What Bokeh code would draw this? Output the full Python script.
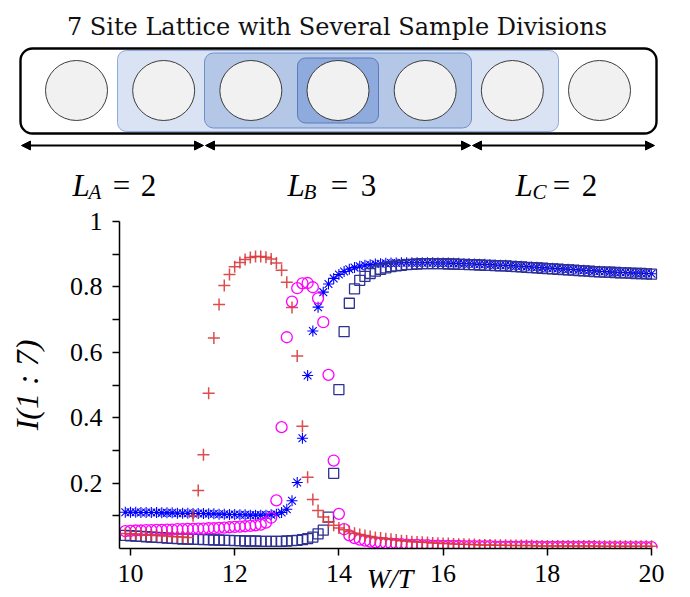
import numpy as np
from bokeh.plotting import figure
from bokeh.models import Range1d, FixedTicker, Arrow, NormalHead
from bokeh.core.properties import value
from bokeh.embed import file_html
from bokeh.resources import INLINE

# ---------------- data ----------------
W = [9.9,
     10.0, 10.1, 10.2, 10.3, 10.4, 10.5, 10.6, 10.7, 10.8, 10.9,
     11.0, 11.1, 11.2, 11.3, 11.4, 11.5, 11.6, 11.7, 11.8, 11.9,
     12.0, 12.1, 12.2, 12.3, 12.4, 12.5, 12.6, 12.7, 12.8, 12.9,
     13.0, 13.1, 13.2, 13.3, 13.4, 13.5, 13.6, 13.7, 13.8, 13.9,
     14.0, 14.1, 14.2, 14.3, 14.4, 14.5, 14.6, 14.7, 14.8, 14.9,
     15.0, 15.1, 15.2, 15.3, 15.4, 15.5, 15.6, 15.7, 15.8, 15.9,
     16.0, 16.1, 16.2, 16.3, 16.4, 16.5, 16.6, 16.7, 16.8, 16.9,
     17.0, 17.1, 17.2, 17.3, 17.4, 17.5, 17.6, 17.7, 17.8, 17.9,
     18.0, 18.1, 18.2, 18.3, 18.4, 18.5, 18.6, 18.7, 18.8, 18.9,
     19.0, 19.1, 19.2, 19.3, 19.4, 19.5, 19.6, 19.7, 19.8, 19.9,
     20.0]

I_plus = [0.046,
          0.045, 0.044, 0.043, 0.042, 0.041, 0.040, 0.039, 0.038, 0.037, 0.036,
          0.035, 0.034, 0.100, 0.177, 0.287, 0.475, 0.644, 0.746, 0.804, 0.838,
          0.862, 0.875, 0.884, 0.890, 0.893, 0.893, 0.891, 0.885, 0.873, 0.851,
          0.814, 0.737, 0.589, 0.374, 0.218, 0.150, 0.116, 0.096, 0.082, 0.071,
          0.063, 0.057, 0.052, 0.047, 0.043, 0.040, 0.037, 0.034, 0.032, 0.030,
          0.028, 0.026, 0.024, 0.023, 0.021, 0.020, 0.019, 0.018, 0.017, 0.016,
          0.015, 0.015, 0.014, 0.013, 0.013, 0.012, 0.012, 0.011, 0.011, 0.011,
          0.010, 0.010, 0.010, 0.009, 0.009, 0.009, 0.009, 0.009, 0.008, 0.008,
          0.008, 0.008, 0.008, 0.008, 0.008, 0.008, 0.008, 0.008, 0.008, 0.008,
          0.007, 0.007, 0.007, 0.007, 0.007, 0.007, 0.007, 0.007, 0.007, 0.007,
          0.007]

I_circle = [0.053,
            0.054, 0.055, 0.055, 0.056, 0.056, 0.057, 0.057, 0.058, 0.058, 0.059,
            0.059, 0.060, 0.060, 0.061, 0.061, 0.062, 0.062, 0.063, 0.064, 0.065,
            0.066, 0.067, 0.068, 0.069, 0.071, 0.073, 0.079, 0.094, 0.147, 0.371,
            0.646, 0.755, 0.796, 0.811, 0.812, 0.799, 0.765, 0.692, 0.531, 0.269,
            0.106, 0.059, 0.040, 0.032, 0.027, 0.024, 0.021, 0.019, 0.017, 0.016,
            0.015, 0.014, 0.013, 0.012, 0.011, 0.011, 0.010, 0.010, 0.009, 0.009,
            0.008, 0.008, 0.008, 0.008, 0.007, 0.007, 0.007, 0.007, 0.007, 0.007,
            0.006, 0.006, 0.006, 0.006, 0.006, 0.006, 0.006, 0.006, 0.005, 0.005,
            0.005, 0.005, 0.005, 0.005, 0.005, 0.005, 0.005, 0.005, 0.005, 0.005,
            0.004, 0.004, 0.004, 0.004, 0.004, 0.004, 0.004, 0.004, 0.004, 0.004,
            0.004]

I_star = [0.111,
          0.111, 0.111, 0.110, 0.110, 0.110, 0.110, 0.109, 0.109, 0.109, 0.108,
          0.108, 0.108, 0.107, 0.107, 0.107, 0.106, 0.106, 0.105, 0.105, 0.104,
          0.104, 0.103, 0.103, 0.102, 0.102, 0.102, 0.102, 0.103, 0.105, 0.110,
          0.120, 0.146, 0.202, 0.337, 0.529, 0.665, 0.738, 0.784, 0.809, 0.826,
          0.838, 0.847, 0.854, 0.859, 0.863, 0.866, 0.868, 0.870, 0.871, 0.872,
          0.873, 0.873, 0.874, 0.874, 0.874, 0.874, 0.874, 0.874, 0.874, 0.873,
          0.873, 0.873, 0.872, 0.872, 0.871, 0.871, 0.870, 0.869, 0.869, 0.868,
          0.867, 0.866, 0.866, 0.865, 0.864, 0.863, 0.862, 0.861, 0.860, 0.859,
          0.858, 0.857, 0.856, 0.855, 0.854, 0.853, 0.852, 0.851, 0.850, 0.849,
          0.848, 0.847, 0.846, 0.845, 0.845, 0.844, 0.843, 0.842, 0.842, 0.841,
          0.840]

I_square = [0.040,
            0.039, 0.038, 0.037, 0.036, 0.035, 0.034, 0.033, 0.032, 0.031, 0.030,
            0.029, 0.029, 0.028, 0.028, 0.027, 0.027, 0.026, 0.026, 0.025, 0.025,
            0.024, 0.024, 0.023, 0.023, 0.023, 0.022, 0.022, 0.022, 0.022, 0.022,
            0.023, 0.024, 0.025, 0.027, 0.030, 0.035, 0.045, 0.056, 0.096, 0.230,
            0.486, 0.663, 0.750, 0.794, 0.820, 0.832, 0.841, 0.848, 0.854, 0.858,
            0.862, 0.864, 0.866, 0.868, 0.869, 0.870, 0.871, 0.871, 0.871, 0.871,
            0.871, 0.870, 0.870, 0.869, 0.869, 0.868, 0.868, 0.867, 0.866, 0.866,
            0.865, 0.864, 0.864, 0.863, 0.862, 0.861, 0.860, 0.859, 0.858, 0.857,
            0.856, 0.855, 0.854, 0.853, 0.852, 0.851, 0.850, 0.849, 0.848, 0.847,
            0.846, 0.845, 0.845, 0.844, 0.843, 0.843, 0.842, 0.841, 0.841, 0.840,
            0.839]

x_ticks = [10, 12, 14, 16, 18, 20]
y_ticks = [0.1, 0.2, 0.3, 0.4, 0.5, 0.6, 0.7, 0.8, 0.9, 1.0]
y_tick_labels = {0.1: "", 0.2: "0.2", 0.3: "", 0.4: "0.4", 0.5: "",
                 0.6: "0.6", 0.7: "", 0.8: "0.8", 0.9: "", 1.0: "1"}

title_text = "7 Site Lattice with Several Sample Divisions"
n_sites = 7
div_letters = ["A", "B", "C"]
div_sizes = ["2", "3", "2"]
x_label = "W/T"
y_label = "I(1 : 7)"

SERIF = "Liberation Serif"

# ---------------- top: lattice diagram (page-pixel coordinates) ----------------
top = figure(width=690, height=200, x_range=Range1d(0, 690), y_range=Range1d(200, 0),
             output_backend="svg", toolbar_location=None, min_border=0,
             x_axis_type=None, y_axis_type=None, outline_line_color=None)

top.text(x=[336.5], y=[26], text=[title_text], text_font=value("DejaVu Serif"),
         text_font_size="24px", text_align="center", text_baseline="alphabetic",
         text_color="#111111")

# outer box and nested divisions
top.quad(left=[20], right=[656], top=[48], bottom=[133], fill_color="white",
         line_color="black", line_width=2.4, border_radius=12)
top.quad(left=[117], right=[558], top=[50], bottom=[131], fill_color="#dae3f3",
         line_color="#8faadc", line_width=1, border_radius=9)
top.quad(left=[204], right=[471], top=[52.5], bottom=[127.5], fill_color="#b4c7e7",
         line_color="#6f8fc8", line_width=1, border_radius=9)
top.quad(left=[297], right=[378], top=[57.5], bottom=[122.5], fill_color="#8faadc",
         line_color="#5a7cbc", line_width=1, border_radius=8)

site_x = [76 + 87.17 * i for i in range(n_sites)]
top.ellipse(x=site_x, y=[90] * n_sites, width=62, height=60, fill_color="#f1f1f1",
            line_color="#3c3c3c", line_width=1)

arrow_spans = [(21, 203), (205, 470), (472, 654)]
for a, b in arrow_spans:
    top.add_layout(Arrow(start=NormalHead(size=9, fill_color="black", line_color="black", line_width=1),
                         end=NormalHead(size=9, fill_color="black", line_color="black", line_width=1),
                         x_start=a, y_start=145, x_end=b, y_end=145,
                         line_color="black", line_width=2))

L_left = [72, 287, 515]
sub_left = [88, 303, 532]
eq_center = [121, 339, 561]
num_center = [148, 368, 589]
top.text(x=L_left, y=[185] * 3, text=["L"] * 3, text_font=value(SERIF),
         text_font_style="italic", text_font_size="31px", text_align="left",
         text_baseline="alphabetic", text_color="black")
top.text(x=sub_left, y=[191] * 3, text=div_letters, text_font=value(SERIF),
         text_font_style="italic", text_font_size="21px", text_align="left",
         text_baseline="alphabetic", text_color="black")
top.text(x=eq_center, y=[185] * 3, text=["="] * 3, text_font=value(SERIF),
         text_font_size="31px", text_align="center",
         text_baseline="alphabetic", text_color="black")
top.text(x=num_center, y=[185] * 3, text=div_sizes, text_font=value(SERIF),
         text_font_size="31px", text_align="center",
         text_baseline="alphabetic", text_color="black")

# ---------------- bottom: I(1:7) vs W/T ----------------
PPU = 52.1
X0 = 10 - 11 / PPU
X1 = X0 + 541 / PPU

bot = figure(width=690, height=397, x_range=Range1d(X0, X1), y_range=Range1d(0, 1),
             output_backend="svg", toolbar_location=None,
             min_border_left=119, min_border_right=30, min_border_top=21, min_border_bottom=49,
             outline_line_color=None)
bot.grid.visible = False

bot.scatter(W, I_star, marker="asterisk", size=11, line_color="#0000ff", line_width=1.1)
bot.scatter(W, I_square, marker="square", size=10, fill_color=None, line_color="#2e3192",
            line_width=1.3)
bot.scatter(W, I_circle, marker="circle", size=11, fill_color=None, line_color="#ff00ff",
            line_width=1.3)
bot.scatter(W, I_plus, marker="cross", size=12, line_color="#d83a3a", line_width=1.5,
            line_alpha=0.9)

for ax in (bot.xaxis[0], bot.yaxis[0]):
    ax.axis_line_width = 1.5
    ax.axis_line_color = "black"
    ax.major_tick_line_width = 1.5
    ax.major_tick_line_color = "black"
    ax.major_tick_in = 0
    ax.major_tick_out = 7
    ax.minor_tick_in = 0
    ax.minor_tick_out = 0
    ax.major_label_text_font = SERIF
    ax.major_label_text_font_size = "26px"
    ax.major_label_text_color = "black"
    ax.axis_label_text_font = SERIF
    ax.axis_label_text_font_style = "italic"
    ax.axis_label_text_color = "black"

bot.xaxis.ticker = FixedTicker(ticks=x_ticks)
bot.xaxis.bounds = (X0, 20.0)
bot.xaxis.major_label_standoff = 9
bot.xaxis.axis_label = x_label
bot.xaxis.axis_label_text_font_size = "28px"
bot.xaxis.axis_label_text_line_height = 0.8
bot.xaxis.axis_label_standoff = -22

bot.yaxis.ticker = FixedTicker(ticks=y_ticks)
bot.yaxis.major_label_overrides = y_tick_labels
bot.yaxis.major_label_standoff = 10
bot.yaxis.bounds = (0, 1)
bot.yaxis.axis_label = y_label
bot.yaxis.axis_label_text_font_size = "32px"
bot.yaxis.axis_label_standoff = 22

open("out.html", "w").write(file_html([top, bot], INLINE))
